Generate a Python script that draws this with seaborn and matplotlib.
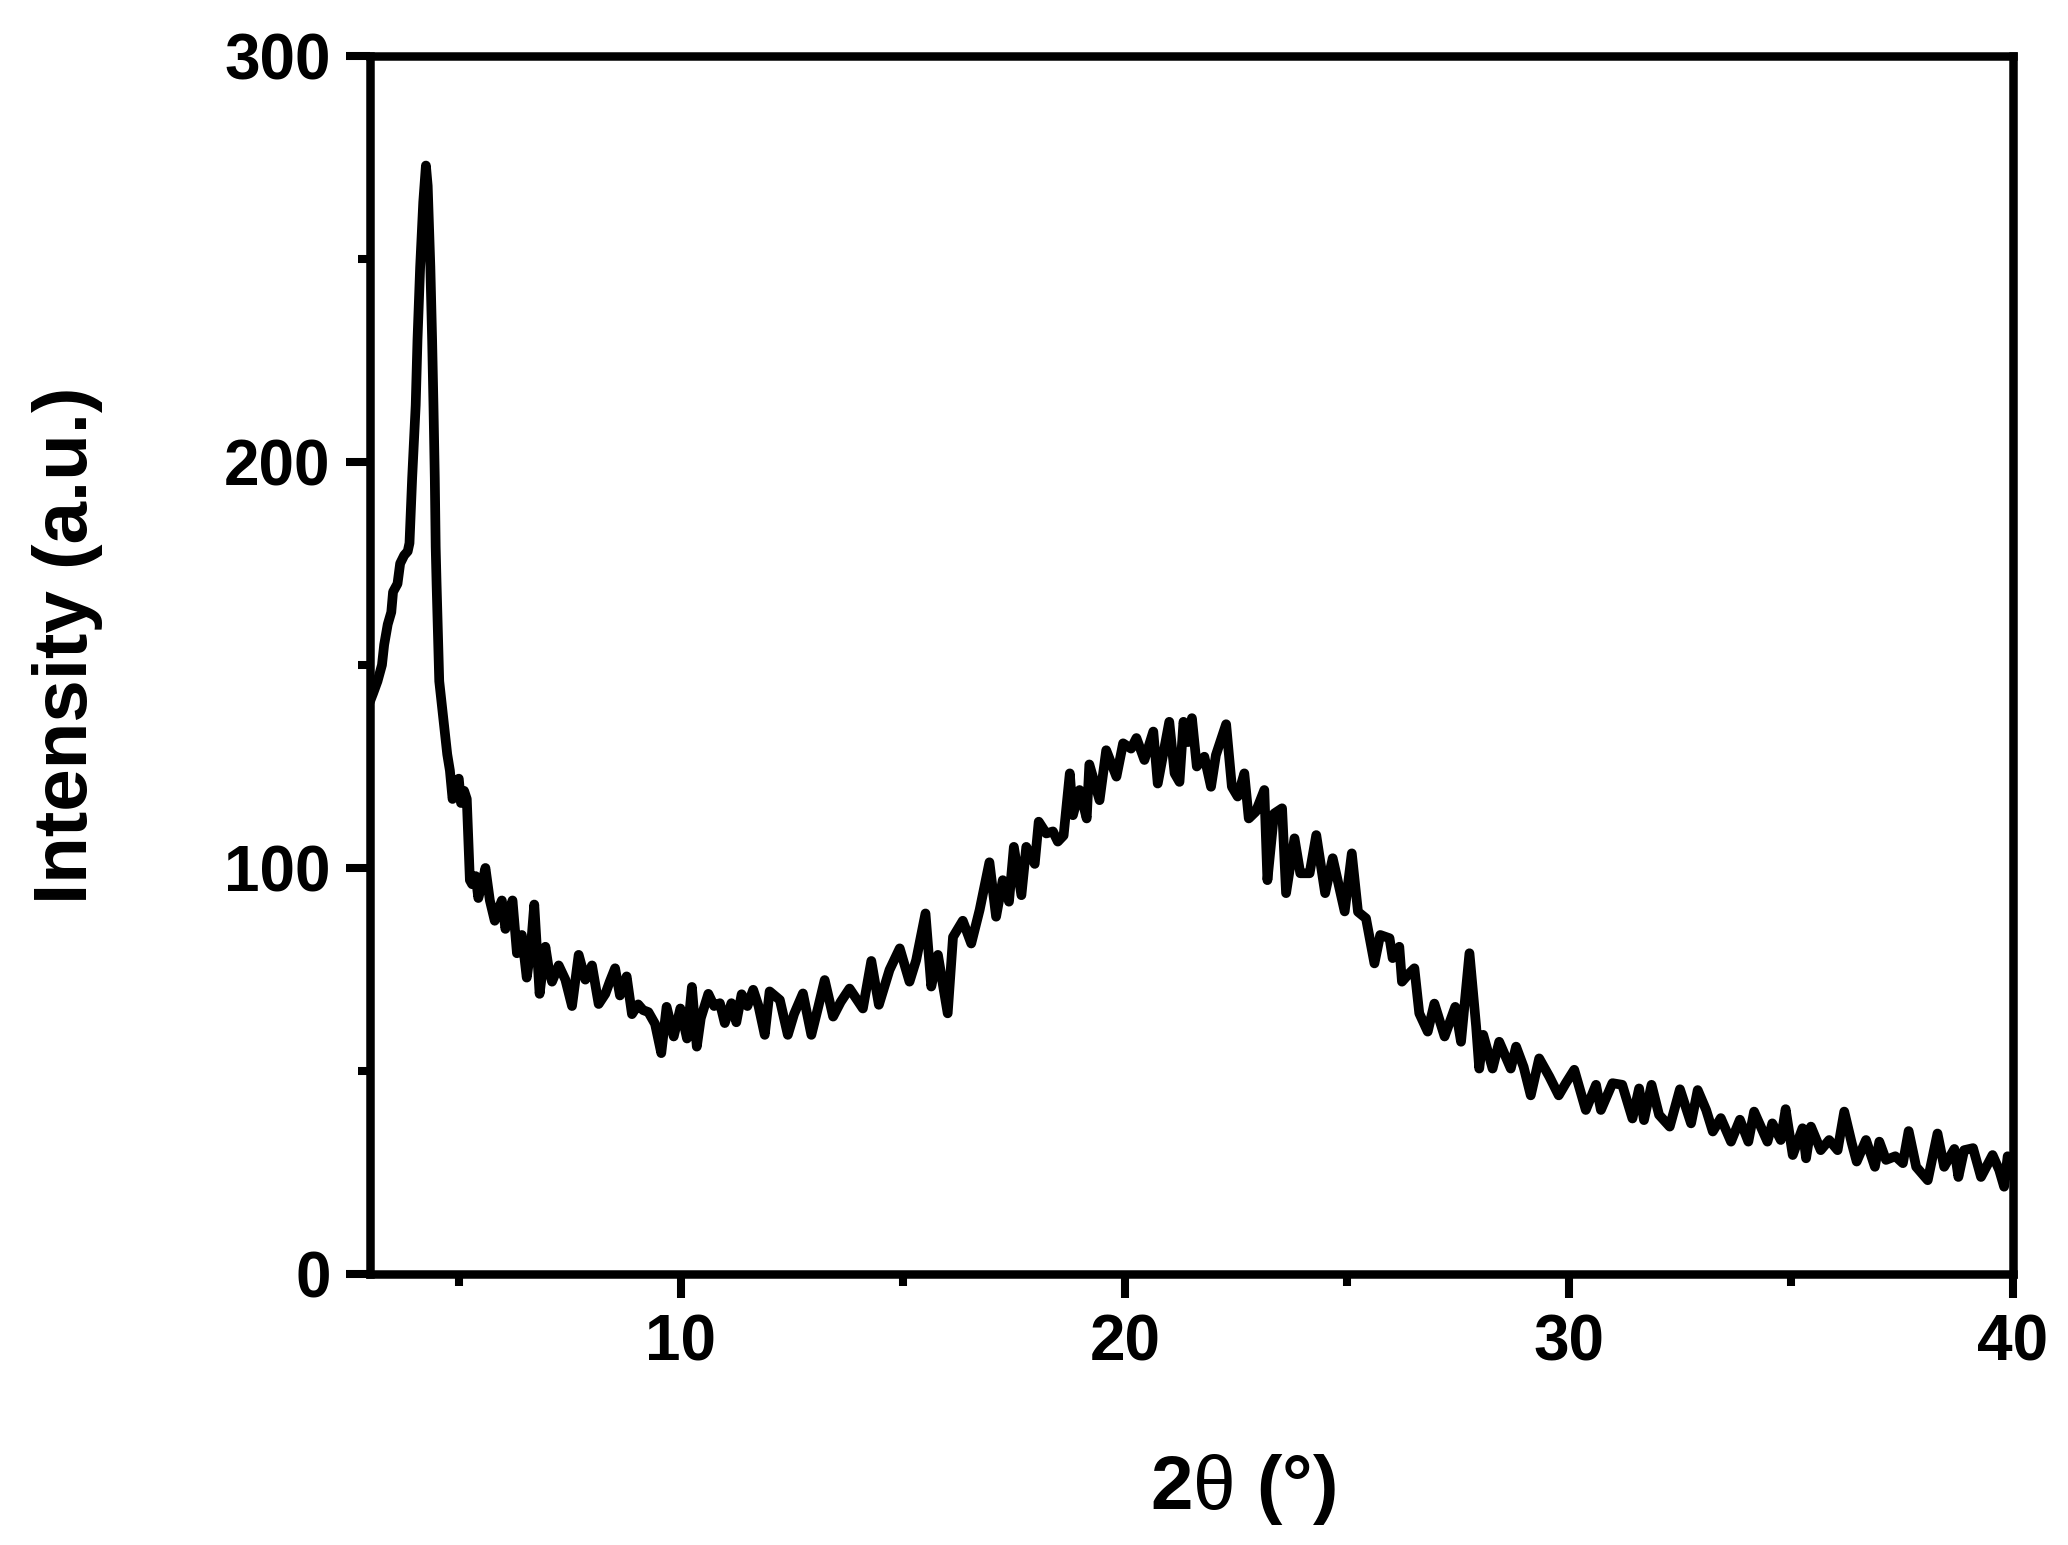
import numpy as np
import pandas as pd
import seaborn as sns
import matplotlib.pyplot as plt

# XRD pattern (2theta in degrees, intensity in a.u.)
two_theta = [
    3.00, 3.07, 3.17, 3.27, 3.32, 3.40, 3.48, 3.52, 3.62, 3.68,
    3.77, 3.85, 3.89, 3.95, 4.03, 4.07, 4.13, 4.20, 4.26, 4.30,
    4.36, 4.40, 4.43, 4.46, 4.48, 4.50, 4.53, 4.56, 4.65, 4.74,
    4.80, 4.86, 4.95, 5.00, 5.05, 5.12, 5.18, 5.25, 5.30, 5.38,
    5.44, 5.52, 5.60, 5.70, 5.81, 5.90, 5.97, 6.05, 6.13, 6.21,
    6.31, 6.42, 6.53, 6.62, 6.70, 6.76, 6.82, 6.95, 7.03, 7.10,
    7.25, 7.40, 7.55, 7.70, 7.85, 8.00, 8.15, 8.30, 8.40, 8.52,
    8.63, 8.78, 8.90, 9.04, 9.15, 9.27, 9.42, 9.56, 9.68, 9.84,
    9.99, 10.14, 10.25, 10.36, 10.45, 10.62, 10.75, 10.88, 10.99, 11.14,
    11.25, 11.37, 11.50, 11.63, 11.75, 11.89, 12.00, 12.23, 12.41, 12.55,
    12.75, 12.94, 13.10, 13.24, 13.43, 13.60, 13.80, 14.10, 14.29, 14.46,
    14.70, 14.93, 15.15, 15.30, 15.51, 15.64, 15.79, 16.01, 16.13, 16.35,
    16.54, 16.73, 16.95, 17.10, 17.25, 17.39, 17.50, 17.67, 17.78, 17.97,
    18.06, 18.23, 18.38, 18.49, 18.62, 18.76, 18.83, 18.98, 19.14, 19.20,
    19.43, 19.58, 19.81, 19.96, 20.14, 20.26, 20.44, 20.64, 20.74, 21.00,
    21.12, 21.23, 21.32, 21.42, 21.51, 21.62, 21.79, 21.94, 22.05, 22.28,
    22.41, 22.54, 22.69, 22.79, 22.95, 23.14, 23.21, 23.36, 23.54, 23.63,
    23.82, 23.95, 24.16, 24.31, 24.51, 24.68, 24.95, 25.11, 25.25, 25.43,
    25.62, 25.75, 25.96, 26.03, 26.18, 26.24, 26.40, 26.52, 26.63, 26.82,
    26.97, 27.20, 27.44, 27.57, 27.76, 27.91, 27.98, 28.07, 28.28, 28.43,
    28.69, 28.81, 28.98, 29.14, 29.33, 29.56, 29.77, 29.93, 30.12, 30.38,
    30.61, 30.72, 30.98, 31.20, 31.43, 31.58, 31.69, 31.86, 32.03, 32.27,
    32.50, 32.75, 32.90, 33.09, 33.24, 33.42, 33.65, 33.85, 34.04, 34.17,
    34.47, 34.58, 34.77, 34.88, 35.04, 35.26, 35.34, 35.45, 35.67, 35.86,
    36.05, 36.20, 36.37, 36.48, 36.69, 36.89, 36.99, 37.14, 37.35, 37.52,
    37.65, 37.82, 38.08, 38.30, 38.45, 38.68, 38.77, 38.90, 39.10, 39.28,
    39.54, 39.69, 39.80, 39.88, 40.00,
]
intensity = [
    141, 143, 146, 150, 155, 160, 163, 168, 170, 175,
    177, 178, 180, 196, 214, 230, 248, 264, 273, 268,
    248, 230, 214, 196, 179, 170, 158, 146, 137, 128,
    124, 117, 121, 122, 116, 119, 117, 97, 96, 98,
    92.6, 96, 100, 92, 87, 90, 92, 85, 89, 92,
    79, 83.5, 73, 80, 91, 80, 69, 80.6, 75, 72,
    76, 72.5, 66, 78.6, 72.5, 76, 66.5, 69, 72, 75.3,
    68.6, 73.3, 64, 66.4, 65, 64.5, 61.6, 54.4, 65.8, 58.5,
    65.4, 58, 70.7, 56, 63, 69, 66, 66.7, 61.8, 66.7,
    62, 68.9, 66, 70, 66, 58.9, 69.6, 67.5, 58.9, 64,
    69.1, 58.9, 66, 72.4, 63.4, 67, 70.3, 65.4, 77.1, 66.3,
    74.9, 80.2, 72, 77.3, 88.8, 70.8, 78.6, 64.2, 83, 87,
    81.4, 89.7, 101.4, 88, 97, 91.7, 105.2, 93.3, 105.2, 101,
    111.4, 108.5, 109, 106.5, 108, 123.3, 113, 119.2, 112.2, 125.5,
    116.7, 129, 122.5, 130.7, 129.4, 132, 126.6, 133.6, 120.8, 136,
    123.3, 121.2, 136, 131, 136.9, 125, 127.4, 120, 127.8, 135.4,
    120, 117.6, 123.3, 112.2, 113.9, 119.2, 97, 113.4, 114.7, 93.8,
    107.3, 98.7, 98.7, 108.1, 93.8, 102.4, 89.3, 103.6, 89.2, 87.6,
    76.5, 83.5, 82.7, 77.8, 80.6, 72, 74, 75.3, 64.2, 59.7,
    66.6, 58.5, 65.8, 57.2, 79, 61, 50.6, 58.9, 50.6, 57.2,
    50.6, 56, 51, 44, 53.1, 48.6, 44, 47, 50.3, 40.4,
    46.6, 40.4, 47, 46.6, 38.3, 45.7, 37.9, 46.6, 39.2, 36.3,
    45.5, 37.1, 45.3, 40.4, 35.1, 38.4, 32.6, 38, 32.6, 40,
    32.6, 37.1, 33, 40.6, 29.3, 35.9, 28.5, 36.3, 30.5, 33,
    30.5, 40, 32.2, 27.7, 33, 26.4, 32.6, 28.1, 29, 27.3,
    35.2, 26.4, 23.1, 34.6, 26.4, 30.8, 23.9, 30.5, 31, 23.9,
    29.3, 25.6, 21.5, 29, 24,
]

x_major = [10, 20, 30, 40]
x_minor = [5, 15, 25, 35]
y_major = [0, 100, 200, 300]
y_minor = [50, 150, 250]

sns.set_style("ticks")
plt.rcParams['font.family'] = ['Liberation Sans', 'DejaVu Sans']
plt.rcParams['font.weight'] = 'bold'
plt.rcParams['text.color'] = 'black'
plt.rcParams['axes.labelcolor'] = 'black'
plt.rcParams['mathtext.fontset'] = 'custom'
plt.rcParams['mathtext.rm'] = 'Liberation Sans:weight=normal'

df = pd.DataFrame({"two_theta": two_theta, "intensity": intensity})

# 2068x1545 px at 200 dpi
fig = plt.figure(figsize=(10.34, 7.725), dpi=200)
ax = fig.add_axes([0.1789, 0.1754, 0.7945, 0.7884])

sns.lineplot(data=df, x="two_theta", y="intensity", ax=ax, color="black",
             linewidth=3.5, estimator=None, sort=False)
for ln in ax.get_lines():
    ln.set_solid_joinstyle("round")
    ln.set_solid_capstyle("round")

ax.set_xlim(3, 40)
ax.set_ylim(0, 300)
ax.set_xticks(x_major)
ax.set_xticks(x_minor, minor=True)
ax.set_yticks(y_major)
ax.set_yticks(y_minor, minor=True)

ax.tick_params(which="major", direction="out", length=8.6, width=2.9,
               pad=5.6, labelsize=23, color="black", labelcolor="black")
ax.tick_params(which="minor", direction="out", length=4.3, width=2.9,
               color="black")
for lab in ax.get_xticklabels() + ax.get_yticklabels():
    lab.set_fontweight("bold")

for sp in ax.spines.values():
    sp.set_visible(True)
    sp.set_linewidth(3.06)
    sp.set_color("black")

ax.set_xlabel(r"2$\mathrm{\theta}$ (°)", fontsize=27.5, fontweight="bold",
              color="black")
ax.xaxis.set_label_coords(0.531, -0.146)
ax.set_ylabel("Intensity (a.u.)", fontsize=27.5, fontweight="bold",
              color="black")
ax.yaxis.set_label_coords(-0.1625, 0.516)

fig.savefig("out.png", dpi=200)
plt.close(fig)
